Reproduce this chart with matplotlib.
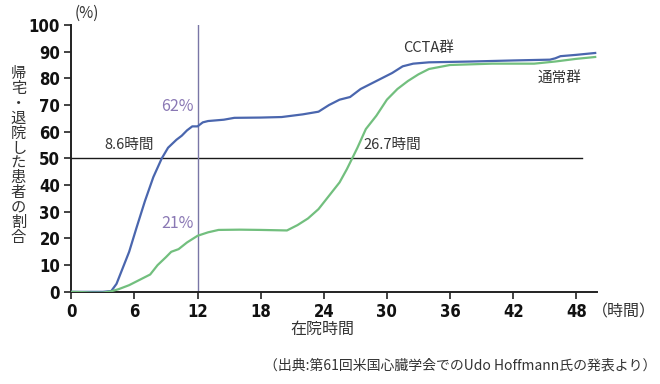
import matplotlib
matplotlib.use('Agg')
import matplotlib.pyplot as plt

plt.rcParams['font.family'] = ['Noto Sans CJK JP', 'DejaVu Sans']

# Hours in hospital vs share of patients discharged (%)
ccta_hours = [0, 1, 2, 3, 3.8, 4.3, 4.8, 5.5, 6.2, 7.0, 7.8, 8.6, 9.2, 10.0, 10.5, 11.0, 11.5, 12.0,
              12.5, 13.0, 14.5, 15.5, 18.0, 20.0, 22.0, 23.5, 24.5, 25.5, 26.5, 27.5, 28.5, 29.5,
              30.5, 31.5, 32.5, 34.0, 38.0, 42.0, 45.5, 46.0, 46.5, 48.0, 49.8]
ccta_vals = [0, 0, 0, 0, 0.3, 3, 8, 15, 24, 34, 43, 50, 54, 57, 58.5, 60.5, 62, 62,
             63.5, 64, 64.5, 65.2, 65.3, 65.5, 66.5, 67.5, 70, 72, 73, 76, 78, 80,
             82, 84.5, 85.5, 86, 86.3, 86.7, 87, 87.5, 88.3, 88.8, 89.5]

usual_hours = [0, 1, 2, 3, 3.8, 4.5, 5.5, 6.5, 7.5, 8.2, 9.0, 9.5, 10.2, 11.0, 12.0, 13.0, 14.0,
               16.0, 18.0, 20.5, 21.5, 22.5, 23.5, 24.5, 25.5, 26.2, 26.7, 27.2, 28.0, 29.0,
               30.0, 31.0, 32.0, 33.0, 34.0, 36.0, 40.0, 44.0, 46.0, 48.0, 49.8]
usual_vals = [0, -0.1, -0.3, -0.3, 0.2, 1, 2.5, 4.5, 6.5, 10, 13, 15, 16, 18.5, 21, 22.3, 23.2,
              23.3, 23.2, 23, 25, 27.5, 31, 36, 41, 46, 50, 54, 61, 66,
              72, 76, 79, 81.5, 83.5, 85, 85.5, 85.5, 86.3, 87.3, 88]

fig = plt.figure(figsize=(6.6, 3.84), dpi=100)
ax = fig.add_axes([0.108, 0.240, 0.797, 0.695])

ax.plot(ccta_hours, ccta_vals, color='#4a66ae', lw=1.6, zorder=3)
ax.plot(usual_hours, usual_vals, color='#72bf7e', lw=1.6, zorder=3)

ax.plot([0, 48.5], [50, 50], color='#1a1a1a', lw=1.0, zorder=2)
ax.axvline(12, color='#7a76a6', lw=1.0, zorder=2)

ax.set_xlim(0, 50)
ax.set_ylim(0, 100)
ax.set_xticks(range(0, 49, 6))
ax.set_yticks(range(0, 101, 10))
for s in ['top', 'right']:
    ax.spines[s].set_visible(False)
for s in ['left', 'bottom']:
    ax.spines[s].set_linewidth(1.4)
    ax.spines[s].set_color('#222222')
ax.tick_params(length=5, width=1.2, color='#222222', pad=3)
for lab in ax.get_xticklabels() + ax.get_yticklabels():
    lab.set_family(['DejaVu Sans'])
    lab.set_fontstretch('condensed')
    lab.set_fontweight('bold')
    lab.set_fontsize(12)
    lab.set_color('#111111')

txt = dict(color='#333333', fontsize=10.5)
ax.text(0.3, 101, '(%)', ha='left', va='bottom', color='#333333', fontsize=11)
ax.text(31.5, 91.5, 'CCTA群', ha='left', va='center', **txt)
ax.text(44.3, 80, '通常群', ha='left', va='center', **txt)
ax.text(11.6, 69.5, '62%', ha='right', va='center', color='#8a78b4', fontsize=11.5)
ax.text(11.6, 25.5, '21%', ha='right', va='center', color='#8a78b4', fontsize=11.5)
ax.text(3.1, 55, '8.6時間', ha='left', va='center', **txt)
ax.text(27.8, 55, '26.7時間', ha='left', va='center', **txt)
ax.text(49.5, -7.7, '（時間）', ha='left', va='center', clip_on=False, color='#333333', fontsize=11.5)

fig.text(0.488, 0.142, '在院時間', ha='center', va='center', color='#333333', fontsize=11.5)
fig.text(0.995, 0.048, '（出典:第61回米国心臓学会でのUdo Hoffmann氏の発表より）',
         ha='right', va='center', color='#333333', fontsize=10)

ylabel = '帰宅・退院した患者の割合'
fig.text(0.028, 0.595, '\n'.join(ylabel), ha='center', va='center', color='#333333',
         fontsize=11, linespacing=0.84)

fig.savefig('out.png', dpi=100, facecolor='white')
